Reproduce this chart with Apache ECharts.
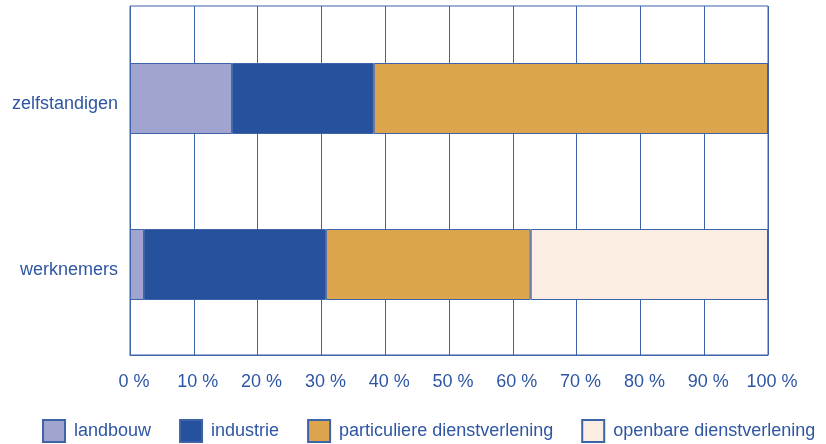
<!DOCTYPE html>
<html>
<head>
<meta charset="utf-8">
<script src="https://cdn.jsdelivr.net/npm/echarts@6/dist/echarts.min.js"></script>
<style>html,body{margin:0;padding:0;background:#fff}#c{width:826px;height:444px}</style>
</head>
<body>
<div id="c"></div>
<script>
const categories = ['zelfstandigen', 'werknemers'];
const seriesNames = ['landbouw', 'industrie', 'particuliere dienstverlening', 'openbare dienstverlening'];
const landbouw = [16.0, 2.2];
const industrie = [22.2, 28.5];
const particuliere = [61.8, 32.1];
const openbare = [0, 37.2];
const tickValues = [0, 10, 20, 30, 40, 50, 60, 70, 80, 90, 100];

const colors = ['#a2a4d0', '#26519c', '#dca44c', '#fbede2'];
const lineColor = '#3d63a9';
const textColor = '#2e56a3';
const font = 'Liberation Sans, Arial, sans-serif';
const values = [landbouw, industrie, particuliere, openbare];

const chart = echarts.init(document.getElementById('c'));
chart.setOption({
  animation: false,
  textStyle: { fontFamily: font },
  grid: [
    { left: 130, right: 58, top: 6, height: 349, show: true, borderColor: lineColor, borderWidth: 1, backgroundColor: 'transparent' },
    { left: 130, right: 58, top: 15.5, height: 332 }
  ],
  xAxis: [
    {
      gridIndex: 0, type: 'value', min: tickValues[0], max: tickValues[tickValues.length - 1], interval: 10,
      axisLine: { show: true, lineStyle: { color: lineColor, width: 1 } },
      axisTick: { show: false },
      splitLine: { show: true, lineStyle: { color: lineColor, width: 1 } },
      axisLabel: { formatter: '{value} %', color: textColor, fontSize: 18, fontFamily: font, margin: 18, padding: [0, 0, 0, 8] }
    },
    { gridIndex: 1, type: 'value', min: 0, max: 100, show: false }
  ],
  yAxis: [
    { gridIndex: 0, type: 'category', data: categories, show: false },
    {
      gridIndex: 1, type: 'category', data: categories, inverse: true,
      axisLine: { show: false }, axisTick: { show: false },
      axisLabel: { color: textColor, fontSize: 18, fontFamily: font, margin: 12, verticalAlign: 'top', lineHeight: 12 }
    }
  ],
  legend: {
    left: 42, top: 419, padding: 0, itemWidth: 22, itemHeight: 22, itemGap: 28,
    width: 800,
    data: seriesNames,
    textStyle: { color: textColor, fontSize: 18, fontFamily: font, padding: [0, 0, 0, 4] },
    icon: 'rect'
  },
  series: seriesNames.map((name, i) => ({
    name: name, type: 'bar', stack: 'total', xAxisIndex: 1, yAxisIndex: 1,
    barWidth: 71,
    data: values[i],
    itemStyle: { color: colors[i], borderColor: lineColor, borderWidth: 1 }
  }))
});
</script>
</body>
</html>
